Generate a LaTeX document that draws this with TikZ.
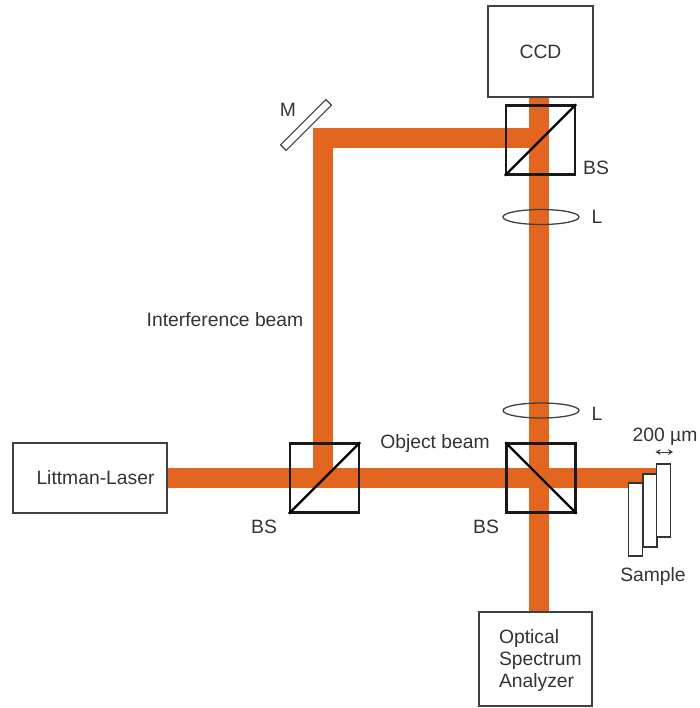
\documentclass[tikz,border=0pt]{standalone}
\usepackage{xcolor}
\usepackage{fontspec}
\setmainfont{Liberation Sans}
\usetikzlibrary{arrows.meta, backgrounds, shapes.geometric}
\definecolor{beamorange}{HTML}{E2661F}
\definecolor{labelgrey}{HTML}{333333}
\tikzset{
    box/.style={draw=black!75, line width=1.1pt, fill=white, inner sep=0pt, text=labelgrey},
    cube/.style={draw=black!90, line width=2.3pt, minimum width=69pt, minimum height=69pt, inner sep=0pt},
    beam/.style={beamorange, line width=20pt},
    lens/.style={draw=black!75, line width=1.3pt, ellipse, minimum width=76pt, minimum height=15pt, inner sep=0pt},
    plate/.style={draw=black!80, line width=1.1pt, fill=white, minimum width=14pt, minimum height=73pt, inner sep=0pt},
    tag/.style={text=labelgrey, inner sep=0pt}
}
\begin{document}
\begin{tikzpicture}[x=1pt, y=-1pt, every node/.append style={font=\fontsize{19.3}{22}\selectfont}]
    \useasboundingbox (0,0) rectangle (699,708);
    \node[box, minimum width=105pt, minimum height=91pt] (CCD) at (540.5,51.5) {CCD};
    \node[box, minimum width=154pt, minimum height=70pt] (Laser) at (90,478) {\hspace*{11pt}Littman-Laser};
    \node[box, minimum width=113pt, minimum height=94pt, text width=113pt, align=left] (OSA) at (535.5,659) {\hspace*{20pt}\rule{0pt}{16pt}Optical\\\hspace*{20pt}Spectrum\\\hspace*{20pt}Analyzer};
    \node[cube] (BSTop) at (540.5,140) {};
    \node[cube] (BSLeft) at (324.5,478) {};
    \node[cube] (BSRight) at (541,478) {};
    \draw[black, line width=2.3pt] (BSTop.south west) -- (BSTop.north east);
    \draw[black, line width=2.3pt] (BSLeft.south west) -- (BSLeft.north east);
    \draw[black, line width=2.3pt] (BSRight.north west) -- (BSRight.south east);
    \node[plate] (SampleA) at (635.5,519.5) {};
    \node[plate] (SampleB) at (650,510.5) {};
    \node[plate] (SampleC) at (663.5,500.5) {};
    \node[box, rotate=45, minimum width=64pt, minimum height=8pt] (Mirror) at (306,125) {};
    \node[lens] (LensTop) at (541,217) {};
    \node[lens] (LensBottom) at (541,410.5) {};
    \coordinate (BeamTop) at (539,97);
    \coordinate (BeamBottom) at (539,612);
    \coordinate (BeamCorner) at (323,138);
    \begin{scope}[on background layer]
        \draw[beam] (Laser.east) -- (Laser.east -| SampleC.west);
        \draw[beam] (BeamTop) -- (BeamBottom);
        \draw[beam] (BeamTop |- BeamCorner) -- (BeamCorner) -- (BeamCorner |- Laser.east);
    \end{scope}
    \node[tag] (LabelM) at (288,110) {M};
    \node[tag] (LabelBSTop) at (596,168) {BS};
    \node[tag] (LabelLTop) at (597,217) {L};
    \node[tag] (LabelLBottom) at (597,414) {L};
    \node[tag] (LabelBSLeft) at (264,527) {BS};
    \node[tag] (LabelBSRight) at (486,527) {BS};
    \node[tag] (LabelBeamI) at (225,320) {Interference beam};
    \node[tag] (LabelBeamO) at (435,444) {Object beam};
    \node[tag] (LabelSample) at (653,577) {Sample};
    \node[tag] (LabelGap) at (665,437) {200 µm};
    \coordinate (GapLeft) at (SampleB.east |- 0,452);
    \coordinate (GapRight) at (SampleC.east |- 0,452);
    \draw[black!75, line width=1pt, {Stealth[length=5pt,width=6pt]}-{Stealth[length=5pt,width=6pt]}, shorten <=-2pt, shorten >=-2pt] (GapLeft) -- (GapRight);
\end{tikzpicture}
\end{document}
